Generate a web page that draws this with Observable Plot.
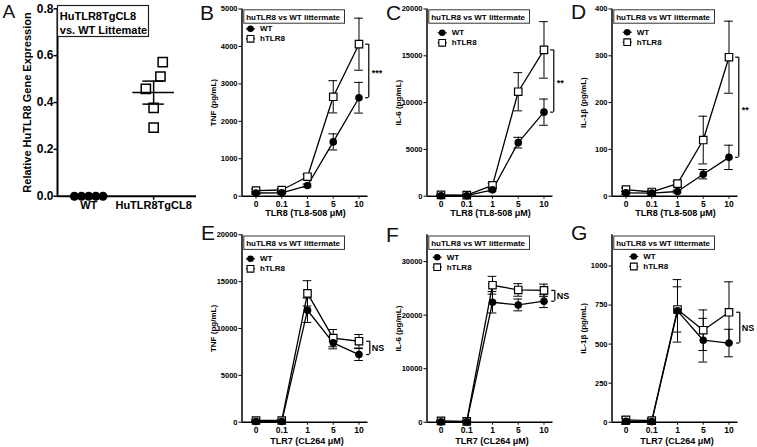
<!DOCTYPE html>
<html><head><meta charset="utf-8">
<script src="https://cdn.jsdelivr.net/npm/d3@7"></script>
<script src="https://cdn.jsdelivr.net/npm/@observablehq/plot@0.6"></script>
<style>
body{margin:0;background:#fff;}
#fig{position:relative;width:757px;height:447px;overflow:hidden;background:#fff;font-family:'Liberation Sans',Arial,sans-serif;}
.plabel{position:absolute;line-height:1;color:#111;font-family:'Liberation Sans',Arial,sans-serif;}
</style></head><body><div id="fig"></div>
<script>
// ---------- data ----------
const groupsA = ["WT", "HuTLR8TgCL8"];
const exprWT = [0, 0, 0, 0, 0];
const exprHu = [0.572, 0.511, 0.458, 0.377, 0.293];
const jitterWT = [-0.22, -0.11, 0, 0.11, 0.22];
const jitterHu = [0.14, 0.105, -0.12, 0, 0];

const doseLabels = ["0", "0.1", "1", "5", "10"];
const legendTitle = "huTLR8 vs WT littermate";
const seriesNames = ["WT", "hTLR8"];

// B: TNF, TL8-508
const tnfTL8_wt = [85, 90, 285, 1450, 2630];
const tnfTL8_wtSem = [30, 30, 40, 215, 410];
const tnfTL8_hu = [150, 165, 520, 2655, 4060];
const tnfTL8_huSem = [40, 40, 60, 430, 695];
// C: IL-6, TL8-508
const il6TL8_wt = [50, 50, 680, 5720, 8980];
const il6TL8_wtSem = [40, 40, 200, 570, 1400];
const il6TL8_hu = [140, 110, 1150, 11160, 15630];
const il6TL8_huSem = [60, 50, 250, 2040, 3020];
// D: IL-1b, TL8-508
const il1bTL8_wt = [7, 6.5, 10, 47, 83];
const il1bTL8_wtSem = [3, 2, 3, 10, 26];
const il1bTL8_hu = [14, 9, 27, 120, 297];
const il1bTL8_huSem = [4, 3, 5, 51, 77];
// E: TNF, CL264
const tnfCL_wt = [70, 70, 11950, 8470, 7220];
const tnfCL_wtSem = [50, 50, 1300, 640, 640];
const tnfCL_hu = [180, 180, 13750, 8970, 8640];
const tnfCL_huSem = [80, 80, 1350, 920, 720];
// F: IL-6, CL264
const il6CL_wt = [60, 60, 22400, 21900, 22600];
const il6CL_wtSem = [50, 50, 2000, 1100, 1200];
const il6CL_hu = [250, 150, 25580, 24700, 24620];
const il6CL_huSem = [80, 80, 1660, 1170, 1170];
// G: IL-1b, CL264
const il1bCL_wt = [6, 4, 713, 525, 507];
const il1bCL_wtSem = [20, 15, 200, 140, 88];
const il1bCL_hu = [15, 10, 722, 589, 704];
const il1bCL_huSem = [20, 15, 145, 130, 195];

// ---------- drawing ----------
const FONT = "'Liberation Sans', Arial, Helvetica, sans-serif";
const fig = document.getElementById("fig");
function place(svg, left, top) {
  svg.style.position = "absolute";
  svg.style.left = left + "px";
  svg.style.top = top + "px";
  svg.style.overflow = "visible";
  fig.appendChild(svg);
}
function panelLabel(t, left, top, size) {
  const d = document.createElement("div");
  d.className = "plabel";
  d.textContent = t;
  d.style.left = left + "px";
  d.style.top = top + "px";
  d.style.fontSize = size + "px";
  fig.appendChild(d);
}
const lineSym = {draw(ctx) { ctx.moveTo(-4.5, 0); ctx.lineTo(4.5, 0); }};
function series(v, e) { return v.map((val, i) => ({i, v: val, lo: val - e[i], hi: val + e[i]})); }

// Panel A
(function () {
  const xd = [-0.48, 1.66];
  const wtPts = exprWT.map((v, k) => ({x: 0 + jitterWT[k], y: v}));
  const huPts = exprHu.map((v, k) => ({x: 1 + jitterHu[k], y: v}));
  const m = d3.mean(exprHu), sem = d3.deviation(exprHu) / Math.sqrt(exprHu.length);
  const H = 222, mt = 8.3, mb = 26.3;
  const svg = Plot.plot({
    width: 200, height: H, marginLeft: 57, marginRight: 4, marginTop: mt, marginBottom: mb,
    style: {fontFamily: FONT, background: "transparent", color: "black", overflow: "visible"},
    x: {type: "linear", domain: xd},
    y: {type: "linear", domain: [0, 0.8]},
    marks: [
      Plot.axisY([0, 0.2, 0.4, 0.6, 0.8], {tickSize: 3.5, tickPadding: 0.5, fontSize: 12, fontWeight: "bold", strokeWidth: 1.5, tickFormat: d3.format(".1f"), label: null}),
      Plot.axisX([0, 1], {tickSize: 4, tickPadding: 1, fontSize: 11, fontWeight: "bold", strokeWidth: 1.5, tickFormat: i => groupsA[i], label: null}),
      Plot.ruleY([0], {stroke: "black", strokeWidth: 2}),
      Plot.ruleX([xd[0]], {stroke: "black", strokeWidth: 2}),
      Plot.text(["Relative HuTLR8 Gene Expression"], {frameAnchor: "left", text: d => d, rotate: -90, dx: -30.3, textAnchor: "middle", lineAnchor: "middle", fontSize: 11, fontWeight: "bold"}),
      Plot.dot(huPts, {x: "x", y: "y", symbol: "square", r: 5.2, fill: "white", stroke: "black", strokeWidth: 1.5}),
      Plot.ruleY([m], {x1: 1 - 0.32, x2: 1 + 0.32, stroke: "black", strokeWidth: 1.5}),
      Plot.ruleX([1], {y1: m - sem, y2: m + sem, stroke: "black", strokeWidth: 1.5}),
      Plot.ruleY([m - sem, m + sem], {y: d => d, x1: 1 - 0.165, x2: 1 + 0.165, stroke: "black", strokeWidth: 1.5}),
      Plot.dot(wtPts, {x: "x", y: "y", r: 4.5, fill: "black"}),
      Plot.frame({fill: "white", stroke: "#222", strokeWidth: 1.2, insetLeft: 0, insetTop: -3.3, insetRight: 48, insetBottom: 159.7}),
      Plot.text(["HuTLR8TgCL8"], {frameAnchor: "top-left", text: d => d, dx: 2.3, dy: 10.7, lineAnchor: "bottom", textAnchor: "start", fontSize: 11, fontWeight: "bold"}),
      Plot.text(["vs. WT Littemate"], {frameAnchor: "top-left", text: d => d, dx: 2.3, dy: 24.7, lineAnchor: "bottom", textAnchor: "start", fontSize: 11, fontWeight: "bold"})
    ]
  });
  place(svg, 0, 0);
})();

function dosePanel(p) {
  const top = p.row === "top";
  const H = top ? 222 : 225;
  const mt = top ? 8.5 : 12.3, mb = top ? 26.3 : 25.3, ml = 41.5;
  const mr = p.width - ml - 126;
  const xd = [-0.544, 4.35];
  const fh = H - mt - mb;
  const wt = series(p.wt, p.wtSem), hu = series(p.hu, p.huSem);
  const cw = 0.17;
  const boxTop = top ? 0.8 : 1.2, boxH = 13.4;
  const errMarks = s => [
    Plot.ruleX(s, {x: "i", y1: "lo", y2: "hi", stroke: "black", strokeWidth: 1}),
    Plot.ruleY(s, {y: "lo", x1: d => d.i - cw, x2: d => d.i + cw, stroke: "black", strokeWidth: 1}),
    Plot.ruleY(s, {y: "hi", x1: d => d.i - cw, x2: d => d.i + cw, stroke: "black", strokeWidth: 1})
  ];
  const last = p.wt.length - 1;
  const b1 = Math.min(p.wt[last], p.hu[last]), b2 = Math.max(p.wt[last], p.hu[last]);
  const bx = top ? 4.38 : 4.42, bt = 0.12;
  const lx = p.legDx, ly = p.legDy;
  const svg = Plot.plot({
    width: p.width, height: H,
    marginLeft: ml, marginRight: mr, marginTop: mt, marginBottom: mb,
    style: {fontFamily: FONT, background: "transparent", color: "black", overflow: "visible"},
    x: {type: "linear", domain: xd},
    y: {type: "linear", domain: [0, p.yMax]},
    marks: [
      Plot.axisY(p.yTicks, {tickSize: 3, tickPadding: 1.5, fontSize: 7.5, fontWeight: "bold", tickFormat: d3.format("d"), label: null}),
      Plot.axisX(d3.range(doseLabels.length), {tickSize: 3, tickPadding: 1.5, fontSize: 8.5, fontWeight: "bold", tickFormat: i => doseLabels[i], label: null}),
      Plot.ruleY([0], {stroke: "black", strokeWidth: 1.5}),
      Plot.ruleX([xd[0]], {stroke: "black", strokeWidth: 1.5}),
      Plot.text([p.yLabel], {frameAnchor: "left", text: d => d, rotate: -90, dx: -28.5, textAnchor: "middle", lineAnchor: "middle", fontSize: 8, fontWeight: "bold"}),
      Plot.text([p.xLabel], {frameAnchor: "bottom", text: d => d, dx: top ? 0.5 : 2, dy: top ? 20 : 21.6, textAnchor: "middle", lineAnchor: "bottom", fontSize: 9, fontWeight: "bold"}),
      ...errMarks(hu), ...errMarks(wt),
      Plot.line(hu, {x: "i", y: "v", stroke: "black", strokeWidth: 1.3}),
      Plot.line(wt, {x: "i", y: "v", stroke: "black", strokeWidth: 1.3}),
      Plot.dot(hu, {x: "i", y: "v", symbol: "square", r: 4.2, fill: "white", stroke: "black", strokeWidth: 1.2}),
      Plot.dot(wt, {x: "i", y: "v", r: 3.8, fill: "black"}),
      // significance bracket
      Plot.ruleX([0], {x: bx, y1: b1, y2: b2, stroke: "black", strokeWidth: 1.2}),
      Plot.ruleY([b1, b2], {y: d => d, x1: bx - bt, x2: bx, stroke: "black", strokeWidth: 1.2}),
      Plot.text([p.sig], {x: 4.5, y: (b1 + b2) / 2, text: d => d, textAnchor: "start", dy: p.sig.startsWith("*") ? 2.5 : 0, fontSize: 9, fontWeight: "bold"}),
      // legend
      Plot.frame({fill: "white", stroke: "#333", strokeWidth: 1, insetLeft: 1.8, insetRight: 23.5, insetTop: boxTop, insetBottom: fh - boxTop - boxH}),
      Plot.text([legendTitle], {frameAnchor: "top-left", text: d => d, dx: 4.2, dy: top ? 11 : 10.9, lineAnchor: "bottom", textAnchor: "start", fontSize: 8, fontWeight: "bold"}),
      Plot.dot([0], {frameAnchor: "top-left", dx: lx, dy: ly, symbol: lineSym, fill: "none", stroke: "black", strokeWidth: 1.2}),
      Plot.dot([0], {frameAnchor: "top-left", dx: lx, dy: ly, r: 3.3, fill: "black"}),
      Plot.text([seriesNames[0]], {frameAnchor: "top-left", text: d => d, dx: lx + 9.5, dy: ly, lineAnchor: "middle", textAnchor: "start", fontSize: 8, fontWeight: "bold"}),
      Plot.dot([0], {frameAnchor: "top-left", dx: lx, dy: ly + 10, symbol: lineSym, fill: "none", stroke: "black", strokeWidth: 1.2}),
      Plot.dot([0], {frameAnchor: "top-left", dx: lx, dy: ly + 10, symbol: "square", r: 3.8, fill: "white", stroke: "black", strokeWidth: 1.1}),
      Plot.text([seriesNames[1]], {frameAnchor: "top-left", text: d => d, dx: lx + 9.5, dy: ly + 10, lineAnchor: "middle", textAnchor: "start", fontSize: 8, fontWeight: "bold"})
    ]
  });
  place(svg, p.left, top ? 0 : 222);
}

const tl8 = "TLR8 (TL8-508 \u03BCM)", cl = "TLR7 (CL264 \u03BCM)";
dosePanel({row: "top", left: 200, width: 185, yMax: 5000, yTicks: [0, 1000, 2000, 3000, 4000, 5000], yLabel: "TNF (pg/mL)", xLabel: tl8,
  wt: tnfTL8_wt, wtSem: tnfTL8_wtSem, hu: tnfTL8_hu, huSem: tnfTL8_huSem, sig: "***", legDx: 8.5, legDy: 19.8});
dosePanel({row: "top", left: 385, width: 185, yMax: 20000, yTicks: [0, 5000, 10000, 15000, 20000], yLabel: "IL-6 (pg/mL)", xLabel: tl8,
  wt: il6TL8_wt, wtSem: il6TL8_wtSem, hu: il6TL8_hu, huSem: il6TL8_huSem, sig: "**", legDx: 15.2, legDy: 23.8});
dosePanel({row: "top", left: 570, width: 187, yMax: 400, yTicks: [0, 100, 200, 300, 400], yLabel: "IL-1\u03B2 (pg/mL)", xLabel: tl8,
  wt: il1bTL8_wt, wtSem: il1bTL8_wtSem, hu: il1bTL8_hu, huSem: il1bTL8_huSem, sig: "**", legDx: 15.2, legDy: 23.2});
dosePanel({row: "bottom", left: 200, width: 185, yMax: 20000, yTicks: [0, 5000, 10000, 15000, 20000], yLabel: "TNF (pg/mL)", xLabel: cl,
  wt: tnfCL_wt, wtSem: tnfCL_wtSem, hu: tnfCL_hu, huSem: tnfCL_huSem, sig: "NS", legDx: 8.5, legDy: 24});
dosePanel({row: "bottom", left: 385, width: 185, yMax: 35000, yTicks: [0, 10000, 20000, 30000], yLabel: "IL-6 (pg/mL)", xLabel: cl,
  wt: il6CL_wt, wtSem: il6CL_wtSem, hu: il6CL_hu, huSem: il6CL_huSem, sig: "NS", legDx: 10.2, legDy: 22.4});
dosePanel({row: "bottom", left: 570, width: 187, yMax: 1200, yTicks: [0, 250, 500, 750, 1000], yLabel: "IL-1\u03B2 (pg/mL)", xLabel: cl,
  wt: il1bCL_wt, wtSem: il1bCL_wtSem, hu: il1bCL_hu, huSem: il1bCL_huSem, sig: "NS", legDx: 21.8, legDy: 21.7});

panelLabel("A", 2.5, 2.2, 19);
panelLabel("B", 200, 1.5, 21);
panelLabel("C", 386, 2.2, 21);
panelLabel("D", 571, 0.5, 21);
panelLabel("E", 201, 222.2, 21);
panelLabel("F", 386, 223.9, 21);
panelLabel("G", 571, 222.2, 21);
</script></body></html>
